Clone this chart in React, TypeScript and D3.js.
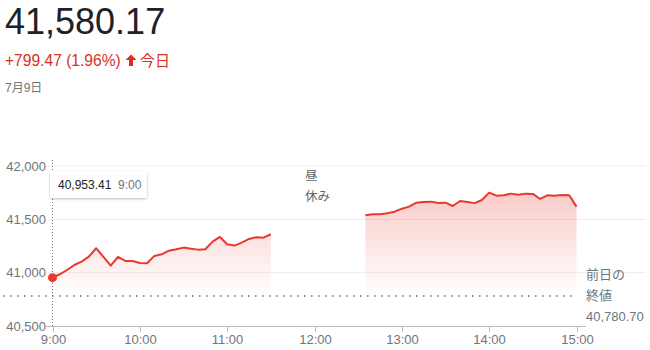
import React from "react";
import * as d3 from "d3";

// Nikkei-style intraday quote, 5-minute closes
const MORNING_START = "9:00";
const AFTERNOON_START = "12:35";
const STEP_MINUTES = 5;

const morningValues = [
  40953.41, 40985, 41025, 41072, 41103, 41150, 41229, 41148, 41066, 41147,
  41110, 41110, 41091, 41088, 41157, 41172, 41206, 41219, 41235, 41225,
  41216, 41219, 41291, 41335, 41266, 41254, 41282, 41316, 41332, 41328,
  41360,
];

const afternoonValues = [
  41538, 41547, 41547, 41557, 41572, 41600, 41619, 41656, 41663, 41666,
  41653, 41656, 41625, 41672, 41663, 41652, 41681, 41750, 41722, 41725,
  41741, 41731, 41741, 41738, 41691, 41725, 41722, 41728, 41725, 41619,
];

const yTicks = [40500, 41000, 41500, 42000];
const xTickLabels = ["9:00", "10:00", "11:00", "12:00", "13:00", "14:00", "15:00"];

const lastPrice = "41,580.17";
const changeText = "+799.47 (1.96%)";
const periodText = "今日";
const dateText = "7月9日";
const previousClose = 40780.7;
const previousCloseLabel = ["前日の", "終値", "40,780.70"];
const lunchLabel = ["昼", "休み"];
const hoverValue = "40,953.41";
const hoverTime = "9:00";

const FONT = "Arial, 'Liberation Sans', 'Noto Sans CJK JP', sans-serif";
const RED_TEXT = "#d93025";
const RED_LINE = "#e8392f";
const GRAY = "#70757a";
const DARK = "#202124";

type Point = { t: number; v: number };

const toMinutes = (hm: string) => {
  const [h, m] = hm.split(":").map(Number);
  return h * 60 + m;
};

const session = (start: string, values: number[]): Point[] =>
  values.map((v, i) => ({ t: toMinutes(start) + i * STEP_MINUTES, v }));

const morning = session(MORNING_START, morningValues);
const afternoon = session(AFTERNOON_START, afternoonValues);

export default function App() {
  const x = d3
    .scaleLinear()
    .domain([toMinutes("9:00"), toMinutes("15:00")])
    .range([52.5, 576.5]);
  const y = d3.scaleLinear().domain([40500, 42000]).range([326, 166]);

  const line = d3
    .line<Point>()
    .x((d) => x(d.t))
    .y((d) => y(d.v));
  const area = d3
    .area<Point>()
    .x((d) => x(d.t))
    .y0(y(previousClose))
    .y1((d) => y(d.v));

  const baseY = y(40500);
  const closeY = y(previousClose);
  const first = morning[0];

  return (
    <svg
      width={650}
      height={350}
      style={{ position: "absolute", left: 0, top: 0, background: "#fff" }}
      fontFamily={FONT}
    >
      <defs>
        <linearGradient id="fillGrad" gradientUnits="userSpaceOnUse" x1={0} x2={0} y1={y(41750)} y2={closeY}>
          <stop offset="0" stopColor={RED_LINE} stopOpacity={0.26} />
          <stop offset="1" stopColor={RED_LINE} stopOpacity={0} />
        </linearGradient>
        <filter id="tipShadow" x="-20%" y="-40%" width="140%" height="180%">
          <feDropShadow dx="0" dy="1" stdDeviation="1.2" floodColor="#000" floodOpacity="0.28" />
        </filter>
      </defs>

      {/* header */}
      <text x={5} y={34} fontSize={36} fill={DARK}>
        {lastPrice}
      </text>
      <text x={5} y={66} fontSize={15.6} fill={RED_TEXT}>
        {changeText}
      </text>
      <path d="M131 54.5 L136.5 60 L133 60 L133 66 L129 66 L129 60 L125.5 60 Z" fill={RED_TEXT} />
      <text x={140} y={66} fontSize={15} fill={RED_TEXT}>
        {periodText}
      </text>
      <text x={5} y={92} fontSize={12} fill={GRAY}>
        {dateText}
      </text>

      {/* grid */}
      {yTicks
        .filter((t) => t !== 40500)
        .map((t) => (
          <line key={t} x1={48} x2={646} y1={y(t)} y2={y(t)} stroke="#ececec" strokeWidth={1} />
        ))}
      {yTicks.map((t) => (
        <text key={t} x={46} y={y(t) + 4.5} fontSize={13} fill={GRAY} textAnchor="end">
          {d3.format(",")(t)}
        </text>
      ))}

      {/* areas and lines */}
      <path d={area(morning) ?? ""} fill="url(#fillGrad)" />
      <path d={area(afternoon) ?? ""} fill="url(#fillGrad)" />

      {/* previous close */}
      <line
        x1={3}
        x2={576}
        y1={closeY}
        y2={closeY}
        stroke={GRAY}
        strokeWidth={1.6}
        strokeDasharray="1.6 5.4"
      />

      <path d={line(morning) ?? ""} fill="none" stroke={RED_LINE} strokeWidth={2} strokeLinejoin="round" />
      <path d={line(afternoon) ?? ""} fill="none" stroke={RED_LINE} strokeWidth={2} strokeLinejoin="round" />

      {/* x axis */}
      <line x1={46} x2={586} y1={baseY + 0.5} y2={baseY + 0.5} stroke="#bdbdbd" strokeWidth={1} />
      {xTickLabels.map((lbl) => {
        const xx = Math.round(x(toMinutes(lbl))) + 0.5;
        return (
          <g key={lbl}>
            <line x1={xx} x2={xx} y1={baseY} y2={baseY + 6} stroke="#bdbdbd" />
            <text x={xx} y={344} fontSize={13} fill={GRAY} textAnchor="middle">
              {lbl}
            </text>
          </g>
        );
      })}

      {/* hover crosshair */}
      <line
        x1={x(first.t)}
        x2={x(first.t)}
        y1={160}
        y2={baseY}
        stroke={GRAY}
        strokeWidth={1}
        strokeDasharray="1 2"
      />
      <circle cx={x(first.t)} cy={y(first.v)} r={4.5} fill={RED_LINE} />

      <g filter="url(#tipShadow)">
        <rect x={50} y={171} width={97} height={27} rx={2} fill="#fff" />
      </g>
      <text x={58} y={189} fontSize={12} fill={DARK}>
        {hoverValue}
      </text>
      <text x={118} y={189} fontSize={12} fill={GRAY}>
        {hoverTime}
      </text>

      {/* lunch break */}
      <text x={305} y={180} fontSize={12.5} fill="#5f6368">
        {lunchLabel[0]}
      </text>
      <text x={305} y={201} fontSize={12.5} fill="#5f6368">
        {lunchLabel[1]}
      </text>

      {/* previous close label */}
      {previousCloseLabel.map((s, i) => (
        <text key={s} x={586} y={279 + i * 21} fontSize={13} fill={GRAY}>
          {s}
        </text>
      ))}
    </svg>
  );
}
